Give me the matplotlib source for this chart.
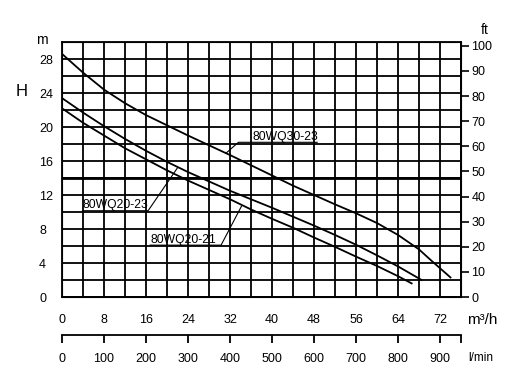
import numpy as np
import matplotlib
matplotlib.use("Agg")
import matplotlib.pyplot as plt

plt.rcParams['font.family'] = ['Liberation Sans', 'DejaVu Sans']

# pump curves, flow in m3/h, head in m
q_30_23 = [0, 4, 8, 12, 16, 20, 24, 28, 32, 36, 40, 44, 48, 52, 56, 60, 64, 68, 70.5, 74]
h_30_23 = [28.6, 26.4, 24.4, 22.8, 21.4, 20.2, 19.0, 17.85, 16.7, 15.5, 14.3, 13.1, 12.0, 10.9,
           9.85, 8.7, 7.3, 5.6, 4.2, 2.3]

q_20_23 = [0, 4, 8, 12, 16, 20, 24, 28, 32, 36, 40, 44, 48, 52, 56, 60, 64, 68.5]
h_20_23 = [23.4, 21.7, 20.1, 18.6, 17.2, 15.9, 14.7, 13.6, 12.5, 11.5, 10.5, 9.45, 8.4, 7.3,
           6.15, 4.9, 3.6, 2.0]

q_20_21 = [0, 4, 8, 12, 16, 20, 24, 28, 32, 36, 40, 44, 48, 52, 56, 60, 64, 66.6]
h_20_21 = [22.2, 20.5, 19.0, 17.5, 16.2, 14.9, 13.7, 12.6, 11.5, 10.3, 9.2, 8.15, 7.0, 5.9,
           4.75, 3.65, 2.45, 1.6]

q_ticks = [0, 8, 16, 24, 32, 40, 48, 56, 64, 72]
h_ticks = [0, 4, 8, 12, 16, 20, 24, 28]
ft_ticks = [0, 10, 20, 30, 40, 50, 60, 70, 80, 90, 100]
lmin_ticks = [0, 100, 200, 300, 400, 500, 600, 700, 800, 900, 950]
lmin_labels = ['0', '100', '200', '300', '400', '500', '600', '700', '800', '900', '']

W, H = 529, 388
fig = plt.figure(figsize=(W / 100, H / 100), dpi=100)
ax = fig.add_axes([62 / W, 1 - 297 / H, (461 - 62) / W, (297 - 42) / H])

ax.set_xlim(0, 76)
ax.set_ylim(0, 30)
ax.set_xticks(q_ticks)
ax.set_xticks(np.arange(0, 77, 4), minor=True)
ax.set_yticks(h_ticks)
ax.set_yticks(np.arange(0, 31, 2), minor=True)
ax.grid(which='both', color='black', lw=1.3)
ax.axhline(14, color='black', lw=2.0)
ax.tick_params(which='both', length=0, labelsize=9)
ax.tick_params(axis='x', pad=12)
ax.tick_params(axis='y', pad=16.5)
for lab in ax.get_yticklabels():
    lab.set_ha('left')
for s in ax.spines.values():
    s.set_linewidth(1.3)

# curves
ax.plot(q_30_23, h_30_23, color='black', lw=1.3)
ax.plot(q_20_23, h_20_23, color='black', lw=1.3)
ax.plot(q_20_21, h_20_21, color='black', lw=1.3)

# labels with underline + leader
lab_kw = dict(fontsize=8.7, va='baseline', ha='left')
ax.text(36.2, 18.5, '80WQ30-23', **lab_kw)
ax.plot([31.2, 33.6, 48.6], [16.9, 18.2, 18.2], color='black', lw=0.8)
ax.text(3.9, 10.45, '80WQ20-23', **lab_kw)
ax.plot([3.9, 16.4, 22.0], [10.15, 10.15, 15.2], color='black', lw=0.8)
ax.text(16.8, 6.4, '80WQ20-21', **lab_kw)
ax.plot([16.8, 30.3, 34.2], [6.1, 6.1, 10.7], color='black', lw=0.8)

# right axis in feet
axr = ax.twinx()
axr.set_ylim(0, 101.5)
axr.set_yticks(ft_ticks)
axr.tick_params(direction='out', length=5.5, width=1.2, pad=2, labelsize=9)

# l/min scale
axb = fig.add_axes([62 / W, 1 - 335 / H, (461 - 62) / W, 0.0001])
axb.set_xlim(0, 950)
axb.set_xticks(lmin_ticks)
axb.set_xticklabels(lmin_labels)
axb.set_yticks([])
axb.patch.set_visible(False)
for side in ['left', 'right', 'top']:
    axb.spines[side].set_visible(False)
axb.spines['bottom'].set_linewidth(1.3)
axb.tick_params(direction='out', length=6, width=1.3, pad=7, labelsize=9)

fig.text(42 / W, 1 - 40 / H, 'm', fontsize=10, ha='center', va='center')
fig.text(22 / W, 1 - 92 / H, 'H', fontsize=12, ha='center', va='center')
fig.text(485 / W, 1 - 30 / H, 'ft', fontsize=10, ha='center', va='center')
fig.text(467 / W, 1 - 320 / H, 'm³/h', fontsize=11, ha='left', va='center')
fig.text(468 / W, 1 - 358 / H, 'l/min', fontsize=8.5, ha='left', va='center')

fig.savefig('out.png', dpi=100)
